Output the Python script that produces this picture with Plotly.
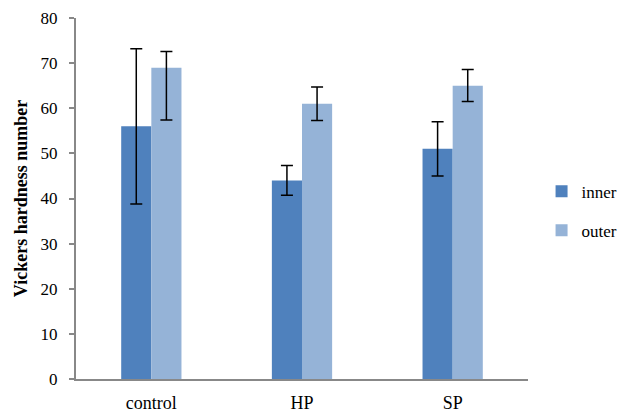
import plotly.graph_objects as go

categories = ["control", "HP", "SP"]
inner_values = [56, 44, 51]
inner_err_plus = [17.2, 3.3, 6.0]
inner_err_minus = [17.2, 3.3, 6.0]
outer_values = [69, 61, 65]
outer_err_plus = [3.6, 3.7, 3.6]
outer_err_minus = [11.6, 3.7, 3.5]
y_ticks = [0, 10, 20, 30, 40, 50, 60, 70, 80]

FONT = "'Liberation Serif', 'Times New Roman', serif"

fig = go.Figure()
fig.add_trace(go.Bar(
    name="inner", x=categories, y=inner_values,
    marker=dict(color="#4F81BD", line=dict(width=0)),
    error_y=dict(type="data", symmetric=False, array=inner_err_plus,
                 arrayminus=inner_err_minus, color="black", thickness=1.5, width=6),
    legendgroup="a",
))
fig.add_trace(go.Bar(
    name="outer", x=categories, y=outer_values,
    marker=dict(color="#95B3D7", line=dict(width=0)),
    error_y=dict(type="data", symmetric=False, array=outer_err_plus,
                 arrayminus=outer_err_minus, color="black", thickness=1.5, width=6),
    legendgroup="b",
))

fig.update_layout(
    width=618, height=404,
    margin=dict(l=68, r=98, t=10, b=33, autoexpand=False),
    paper_bgcolor="white", plot_bgcolor="white",
    barmode="group", bargap=0.6, bargroupgap=0,
    font=dict(family=FONT, size=17, color="black"),
    showlegend=True,
    legend=dict(x=1.03, y=0.465, xanchor="left", yanchor="middle",
                traceorder="grouped", tracegroupgap=14,
                font=dict(family=FONT, size=17, color="black"),
                itemwidth=30),
    xaxis=dict(showline=True, linecolor="#888888", linewidth=2,
               ticks="", showgrid=False, ticklabelstandoff=6, automargin=False,
               tickfont=dict(family=FONT, size=18, color="black")),
    yaxis=dict(range=[0, 80], tickvals=y_ticks, showline=True, automargin=False,
               linecolor="#888888", linewidth=2, ticks="outside", ticklen=5,
               tickcolor="#888888", tickwidth=1.5, showgrid=False, zeroline=False,
               ticklabelstandoff=8,
               tickfont=dict(family=FONT, size=17, color="black"),
               title=dict(text="<b>Vickers hardness number</b>",
                          font=dict(family=FONT, size=18, color="black"),
                          standoff=8)),
)

fig.write_html("out.html")
